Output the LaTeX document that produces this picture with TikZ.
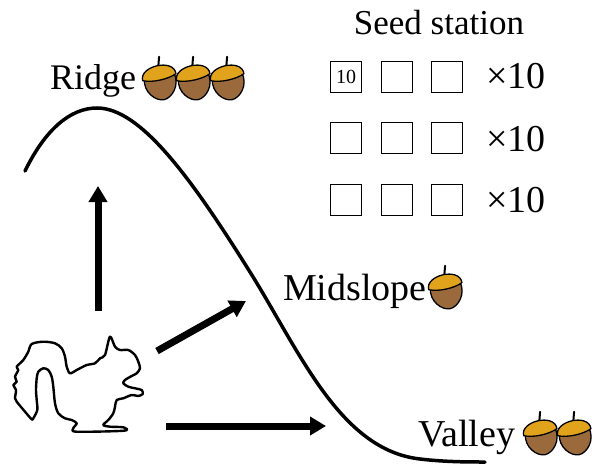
\documentclass[tikz,border=0pt]{standalone}
\usepackage{fontspec}
\setmainfont{Liberation Serif}
\usetikzlibrary{arrows.meta}
\definecolor{capgold}{HTML}{E2A31C}
\definecolor{nutbrown}{HTML}{9A6A3D}
\tikzset{
  lbl/.style={inner sep=0pt, anchor=base west, font=\fontsize{36}{40}\selectfont},
  biglbl/.style={lbl, font=\fontsize{38}{42}\selectfont},
  cnt/.style={inner sep=0pt, anchor=base west, font=\fontsize{38}{42}\selectfont},
  slot/.style={draw, line width=1.6pt, minimum size=31pt, inner sep=0pt},
  slope/.style={line width=3.5pt, line cap=round},
  move/.style={line width=7pt, -{Triangle[length=16pt,width=18pt]}},
  outline/.style={line width=2.4pt, line join=round},
  acorn/.pic={
    \begin{scope}[rotate=12, line width=1.3pt, line join=round]
      \draw[line cap=round, line width=2pt] (1,-18) -- (4,-28);
      \filldraw[fill=nutbrown] (-15,-10) .. controls (-19,4) and (-8,15) .. (0,15)
        .. controls (8,15) and (19,4) .. (15,-10) -- cycle;
      \filldraw[fill=capgold] (-17,-8) .. controls (-18,-23) and (18,-24) .. (17,-8)
        .. controls (8,-4) and (-8,-4) .. cycle;
    \end{scope}
  }
}
\begin{document}
\begin{tikzpicture}[x=1pt, y=-1pt]
  \useasboundingbox (0,0) rectangle (592,466);

  % hill profile
  \draw[slope] (25,171) .. controls (45,130) and (70,108) .. (97,108)
    .. controls (140,108) and (190,176) .. (250,272)
    .. controls (300,352) and (340,450) .. (420,459)
    .. controls (445,462) and (470,462) .. (485,462);

  % labels with acorn counts
  \node[lbl] (ridge) at (50,89) {Ridge};
  \pic at (161,85) {acorn};
  \pic at (195,85) {acorn};
  \pic at (229,85) {acorn};

  \node[biglbl] (mid) at (283,300) {Midslope};
  \pic at (447,294) {acorn};

  \node[biglbl] (valley) at (418,446) {Valley};
  \pic at (542,440) {acorn};
  \pic at (576,440) {acorn};

  % seed station grid
  \node[inner sep=0pt, anchor=base, font=\fontsize{35}{40}\selectfont] (title) at (439,34) {Seed station};
  \node[slot, font=\fontsize{20}{22}\selectfont] (s11) at (346,77) {10};
  \node[slot] (s12) at (397,77) {};
  \node[slot] (s13) at (447,77) {};
  \node[slot] (s21) at (346,138) {};
  \node[slot] (s22) at (397,138) {};
  \node[slot] (s23) at (447,138) {};
  \node[slot] (s31) at (346,200) {};
  \node[slot] (s32) at (397,200) {};
  \node[slot] (s33) at (447,200) {};
  \node[cnt] (n1) at (486,88) {×10};
  \node[cnt] (n2) at (486,151) {×10};
  \node[cnt] (n3) at (486,212) {×10};

  % squirrel silhouette
  \draw[outline] plot[smooth cycle, tension=0.5] coordinates {
    (31.7,344) (43.3,341.7) (55,343.3) (61.7,348.3) (65,356.7) (66.7,366.7)
    (70,373.3) (76.7,370) (86.7,365) (95,363.3) (100,358.3) (105,355)
    (110,336.7) (115,346.7) (120,350) (128.3,350) (135,355) (138.3,361.7)
    (140,368.3) (136.7,373.3) (131.7,376) (125,380) (123.3,383.3)
    (128.3,386.7) (135,388.3) (141.7,390) (142.7,394) (138.3,396)
    (131.7,395) (123.3,398.3) (116.7,400) (115,406.7) (113.3,413.3)
    (108.3,420) (103.3,425) (110,426.7) (123.3,427.3) (124,430.7)
    (76.7,431.7) (73.3,428.3) (76.7,423.3) (71.7,420) (65,418.3)
    (58.3,413.3) (55,403.3) (53.3,386.7) (51.7,376.7) (48.3,370)
    (43.3,368.3) (38.3,371.7) (36.7,378.3) (36,390) (36.7,400) (37.3,410)
    (33.3,418.3) (31.7,419.3) (25,411.7) (16.7,401.7) (15,398.3) (16,390)
    (13.3,385) (16.7,381.7) (15,376.7) (18.3,370) (16.7,366.7) (23.3,360)
    (28.3,351.7)};

  % foraging directions
  \coordinate (upStart) at (98,311);
  \coordinate (upEnd) at (98,186);
  \coordinate (midStart) at (157,351);
  \coordinate (midEnd) at (246,301);
  \coordinate (lowStart) at (166,426);
  \coordinate (lowEnd) at (326,426);
  \draw[move] (upStart) -- (upEnd);
  \draw[move] (midStart) -- (midEnd);
  \draw[move] (lowStart) -- (lowEnd);
\end{tikzpicture}
\end{document}
